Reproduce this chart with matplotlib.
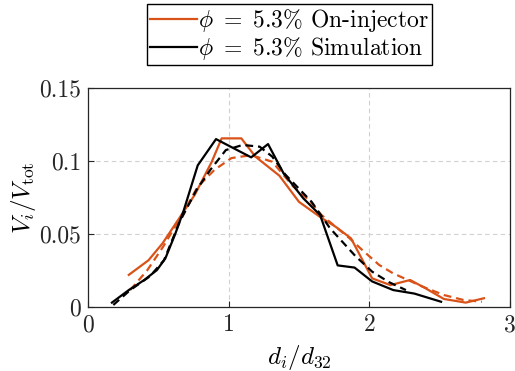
import matplotlib
matplotlib.use("Agg")
import matplotlib.pyplot as plt

# On-injector (measured) - solid orange
inj_x = [0.29, 0.43, 0.53, 0.65, 0.76, 0.88, 0.95, 1.09, 1.19, 1.36, 1.50, 1.66, 1.76, 1.87, 2.02, 2.15, 2.29, 2.40, 2.53, 2.685, 2.815]
inj_y = [0.022, 0.032, 0.0436, 0.061, 0.077, 0.0995, 0.1155, 0.1155, 0.103, 0.090, 0.072, 0.061, 0.055, 0.047, 0.0196, 0.015, 0.0185, 0.0128, 0.0055, 0.003, 0.006]
# On-injector fit - dashed orange
inj_fit_x = [0.30, 0.42, 0.534, 0.65, 0.78, 0.90, 1.02, 1.16, 1.31, 1.46, 1.57, 1.66, 1.86, 1.95, 2.07, 2.17, 2.38, 2.53, 2.67, 2.80]
inj_fit_y = [0.0116, 0.025, 0.0413, 0.060, 0.0824, 0.094, 0.102, 0.104, 0.0995, 0.0824, 0.0733, 0.063, 0.047, 0.039, 0.0288, 0.023, 0.0139, 0.0082, 0.0048, 0.0036]
# Simulation - solid black
sim_x = [0.17, 0.29, 0.40, 0.49, 0.55, 0.62, 0.68, 0.78, 0.91, 1.16, 1.28, 1.39, 1.53, 1.65, 1.775, 1.895, 2.02, 2.17, 2.32, 2.51]
sim_y = [0.003, 0.0116, 0.0185, 0.0253, 0.0333, 0.050, 0.066, 0.097, 0.115, 0.1025, 0.1116, 0.0916, 0.0745, 0.063, 0.0285, 0.027, 0.0175, 0.0116, 0.0092, 0.0036]
# Simulation fit - dashed black
sim_fit_x = [0.18, 0.30, 0.44, 0.54, 0.65, 0.77, 0.87, 0.98, 1.10, 1.22, 1.31, 1.40, 1.59, 1.72, 1.90, 2.02, 2.14, 2.26]
sim_fit_y = [0.0014, 0.0116, 0.021, 0.032, 0.058, 0.080, 0.094, 0.1075, 0.111, 0.1098, 0.103, 0.091, 0.072, 0.054, 0.035, 0.0242, 0.017, 0.0116]

xticks = [0, 1, 2, 3]
yticks = [0, 0.05, 0.1, 0.15]
ytick_labels = ["0", "0.05", "0.1", "0.15"]

plt.rcParams["mathtext.fontset"] = "cm"
plt.rcParams["font.family"] = "serif"
plt.rcParams["font.serif"] = ["cmr10", "DejaVu Serif"]
plt.rcParams["axes.formatter.use_mathtext"] = True

orange = "#D95319"

fig = plt.figure(figsize=(5.15, 3.71), dpi=100)
ax = fig.add_axes([88/515, 1-307/371, (510-88)/515, (307-88)/371])

l1, = ax.plot(inj_x, inj_y, color=orange, lw=1.6, label=r"$\phi\ =\ 5.3\%$ On-injector")
ax.plot(inj_fit_x, inj_fit_y, color=orange, lw=1.6, ls=(0, (3.5, 2.2)))
l2, = ax.plot(sim_x, sim_y, color="black", lw=1.6, label=r"$\phi\ =\ 5.3\%$ Simulation")
ax.plot(sim_fit_x, sim_fit_y, color="black", lw=1.6, ls=(0, (3.5, 2.2)))

ax.set_xlim(0, 3)
ax.set_ylim(0, 0.15)
ax.set_xticks(xticks)
ax.set_xticklabels([str(t) for t in xticks])
ax.set_yticks(yticks)
ax.set_yticklabels(ytick_labels)
ax.tick_params(direction="in", length=4, width=0.8, labelsize=17, colors="#262626", top=False, right=False, pad=5)
ax.grid(True, ls=(0, (4, 3)), color="#d0d0d0", lw=0.8)
for s in ax.spines.values():
    s.set_color("#262626")
    s.set_linewidth(0.9)

ax.set_xlabel(r"$d_i/d_{32}$", fontsize=18, labelpad=5)
ax.set_ylabel(r"$V_i/V_{\mathrm{tot}}$", fontsize=18, va="center")
ax.yaxis.set_label_coords((24 - 88) / 422, 0.5)

leg = fig.legend(handles=[l1, l2], loc="upper center", bbox_to_anchor=(289.5/515, 1-4/371),
                 fontsize=17, frameon=True, fancybox=False, edgecolor="black", framealpha=1,
                 handlelength=2.0, handletextpad=0.05, labelspacing=0.05, borderpad=0.12,
                 borderaxespad=0)
leg.get_frame().set_linewidth(1.0)

fig.savefig("out.png", dpi=100)
